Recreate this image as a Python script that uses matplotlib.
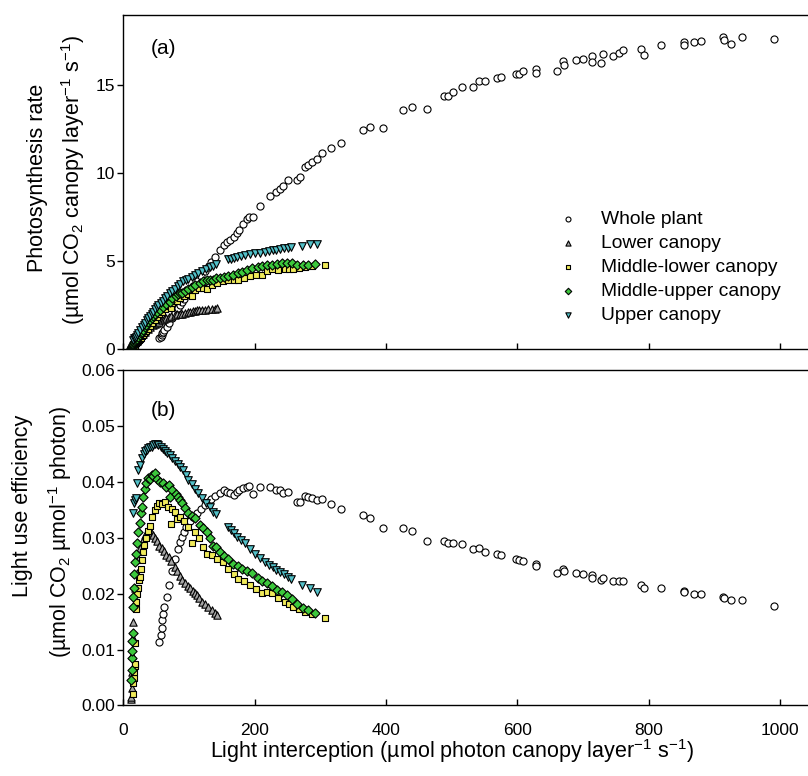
import matplotlib
matplotlib.use("Agg")
import matplotlib.pyplot as plt

plt.rcParams['font.family'] = ['Liberation Sans', 'DejaVu Sans']
plt.rcParams['mathtext.fontset'] = 'custom'
plt.rcParams['mathtext.rm'] = 'Liberation Sans'
plt.rcParams['mathtext.it'] = 'Liberation Sans:italic'
plt.rcParams['mathtext.bf'] = 'Liberation Sans:bold'
plt.rcParams['mathtext.sf'] = 'Liberation Sans'

# ---------------- data ----------------
# Whole plant: light interception, photosynthesis rate, light use efficiency
whole_x = [55, 57, 58.6, 59.6, 61, 62.6, 66, 70, 74, 79, 84, 86.5, 89, 92.5, 96, 101, 106, 112, 118, 124, 129, 134, 140,
           147, 153, 158.5, 163, 168, 172.5, 177, 182, 188, 191, 198, 208, 223, 232.6, 238.7, 243.8, 251.5, 264, 269,
           276.7, 281, 287, 295.5, 302, 316, 331.5, 364.5, 375.6, 396, 426, 439, 463, 488, 495, 502, 515, 533, 542,
           551, 569.5, 575, 598, 603, 609, 628, 628.5, 661, 670, 671, 690, 700, 713, 714, 727, 731, 745, 754, 761,
           788, 793, 818, 853, 854, 869, 880, 913, 914, 925, 942, 991]
whole_P = [0.63, 0.72, 0.81, 0.91, 0.99, 1.11, 1.29, 1.51, 1.78, 2.07, 2.35, 2.53, 2.69, 2.88, 3.07, 3.33, 3.58, 3.86,
           4.15, 4.45, 4.70, 4.95, 5.25,
           5.63, 5.90, 6.10, 6.22, 6.40, 6.62, 6.80, 7.12, 7.38, 7.50, 7.53, 8.17, 8.70, 8.92, 9.10, 9.27, 9.62, 9.62,
           9.80, 10.38, 10.50, 10.65, 10.84, 11.16, 11.42, 11.73, 12.45, 12.65, 12.58, 13.58, 13.78, 13.66, 14.38,
           14.38, 14.64, 14.88, 14.90, 15.24, 15.24, 15.43, 15.50, 15.62, 15.66, 15.80, 15.95, 15.68, 15.80, 16.36,
           16.17, 16.42, 16.50, 16.65, 16.34, 16.27, 16.80, 16.65, 16.86, 16.99, 17.08, 16.70, 17.31, 17.46, 17.31,
           17.46, 17.50, 17.74, 17.59, 17.37, 17.74, 17.65]
whole_L = [0.0114, 0.0126, 0.0138, 0.0153, 0.0163, 0.0177, 0.0195, 0.0216, 0.0240, 0.0262, 0.0280, 0.0293, 0.0302,
           0.0311, 0.0320, 0.0330, 0.0338, 0.0345, 0.0352, 0.0359, 0.0364, 0.0369, 0.0375,
           0.0381, 0.0386, 0.0383, 0.0381, 0.0377, 0.0383, 0.0385, 0.0389, 0.0391, 0.0393, 0.0379, 0.0392, 0.0391,
           0.0385, 0.0386, 0.0381, 0.0383, 0.0365, 0.0364, 0.0375, 0.0374, 0.0371, 0.0367, 0.0369, 0.0361, 0.0352,
           0.0341, 0.0335, 0.0317, 0.0318, 0.0313, 0.0294, 0.0295, 0.0290, 0.0291, 0.0289, 0.0280, 0.0282, 0.0275,
           0.0271, 0.0269, 0.0262, 0.0260, 0.0258, 0.0254, 0.0249, 0.0238, 0.0244, 0.0241, 0.0237, 0.0235, 0.0234,
           0.0229, 0.0225, 0.0229, 0.0223, 0.0223, 0.0223, 0.0216, 0.0211, 0.0211, 0.0205, 0.0203, 0.0200, 0.0199,
           0.0194, 0.0192, 0.0188, 0.0189, 0.0178]

# Lower canopy
lower_x = [12.4, 12.5, 12.8, 13.2, 13.8, 14.5, 15.5, 16.8, 18.5, 20.5, 23.0, 26.0, 29.5, 33.0, 37.0, 40.8, 44.9, 48.0,
           51.5, 55.0, 58.5, 62.0, 65.5, 69.0, 73.5, 78.8, 82.5, 86.5, 90.0, 94.0, 98.0, 101.7, 105.5, 109.0, 112.5,
           116.0, 120.0, 124.5, 129.0, 134.5, 139.0, 143.5]
lower_P = [0.014, 0.019, 0.040, 0.08, 0.12, 0.17, 0.23, 0.30, 0.39, 0.49, 0.60, 0.73, 0.87, 1.01, 1.15, 1.28, 1.37,
           1.44, 1.52, 1.57, 1.65, 1.71, 1.77, 1.83, 1.90, 1.95, 1.98, 2.00, 2.03, 2.06, 2.10, 2.14, 2.16, 2.19, 2.22,
           2.23, 2.23, 2.25, 2.28, 2.30, 2.31, 2.32]
lower_L = [0.0011, 0.0015, 0.0031, 0.0060, 0.0090, 0.0120, 0.0150, 0.0180, 0.0210, 0.0238, 0.0262, 0.0282, 0.0296,
           0.0305, 0.0311, 0.0314, 0.0305, 0.0300, 0.0295, 0.0286, 0.0282, 0.0276, 0.0270, 0.0265, 0.0258, 0.0248,
           0.0240, 0.0231, 0.0225, 0.0219, 0.0214, 0.0210, 0.0205, 0.0201, 0.0197, 0.0192, 0.0186, 0.0181, 0.0177,
           0.0171, 0.0166, 0.0162]

# Middle-lower canopy
midlow_x = [14.5, 15.5, 16.4, 16.8, 17.5, 18.0, 18.0, 19.0, 20.0, 21.5, 22.5, 23.5, 25.0, 26.5, 28.0, 30.0, 32.0, 34.5,
            37.0, 40.5, 44.0, 48.0, 52.0, 55.0, 59.0, 63.5, 68.5, 72.0, 75.0, 79.0, 82.5, 86.5, 92.0, 98.0, 104.0,
            109.0, 116.0, 122.0, 127.0, 135.0, 143.0, 152.0, 160.0, 168.0, 175.0, 184.0, 193.0, 202.0, 211.0, 219.0,
            226.0, 236.0, 246.0, 253.0, 259.0, 268.0, 277.0, 287.0, 307.0]
midlow_P = [0.03, 0.06, 0.08, 0.10, 0.12, 0.135, 0.20, 0.33, 0.37, 0.43, 0.47, 0.53, 0.58, 0.65, 0.73, 0.83, 0.92,
            1.04, 1.15, 1.30, 1.49, 1.68, 1.86, 1.99, 2.12, 2.31, 2.44, 2.34, 2.64, 2.74, 2.75, 2.92, 3.04, 3.14,
            3.02, 3.39, 3.48, 3.46, 3.45, 3.65, 3.75, 3.89, 3.92, 3.95, 3.96, 4.08, 4.17, 4.20, 4.24, 4.45, 4.57,
            4.53, 4.58, 4.58, 4.58, 4.61, 4.65, 4.71, 4.79]
midlow_L = [0.0020, 0.0040, 0.0049, 0.0060, 0.0070, 0.0075, 0.0112, 0.0172, 0.0185, 0.0200, 0.0210, 0.0225, 0.0230,
            0.0245, 0.0260, 0.0275, 0.0288, 0.0300, 0.0312, 0.0322, 0.0338, 0.0350, 0.0358, 0.0362, 0.0360, 0.0364,
            0.0356, 0.0325, 0.0352, 0.0347, 0.0333, 0.0338, 0.0330, 0.0320, 0.0290, 0.0311, 0.0300, 0.0284, 0.0272,
            0.0270, 0.0262, 0.0256, 0.0245, 0.0235, 0.0226, 0.0222, 0.0216, 0.0208, 0.0201, 0.0203, 0.0202, 0.0192,
            0.0186, 0.0181, 0.0177, 0.0172, 0.0168, 0.0164, 0.0156]

# Middle-upper canopy
midup_x = [12.5, 12.9, 13.2, 13.5, 14.0, 14.4, 14.5, 15.5, 16.4, 17.0, 18.0, 19.0, 20.5, 23.0, 25.6, 27.0, 28.5, 30.0,
           32.5, 35.0, 38.0, 41.0, 43.5, 46.0, 48.5, 52.0, 56.0, 61.0, 65.0, 69.0, 71.0, 75.0, 80.0, 84.0, 86.5, 89.0,
           94.0, 99.0, 104.0, 109.0, 117.0, 122.0, 127.0, 132.0, 137.0, 142.0, 147.0, 153.0, 160.0, 167.5, 174.0,
           181.0, 188.0, 195.5, 205.5, 212.0, 218.5, 226.0, 233.5, 241.0, 249.0, 257.0, 265.0, 274.0, 281.0, 292.0]
midup_P = [0.06, 0.08, 0.11, 0.13, 0.16, 0.19, 0.26, 0.30, 0.34, 0.40, 0.46, 0.52, 0.59, 0.71, 0.83, 0.93, 1.01, 1.12,
           1.26, 1.39, 1.55, 1.66, 1.80, 1.89, 2.02, 2.11, 2.25, 2.43, 2.55, 2.73, 2.66, 2.90, 3.02, 3.14, 3.18, 3.22,
           3.32, 3.41, 3.54, 3.65, 3.79, 3.88, 3.95, 3.96, 3.92, 4.03, 4.03, 4.10, 4.19, 4.25, 4.35, 4.42, 4.51, 4.63,
           4.69, 4.73, 4.81, 4.81, 4.83, 4.89, 4.93, 4.88, 4.80, 4.77, 4.78, 4.82]
midup_L = [0.0045, 0.0063, 0.0085, 0.0097, 0.0115, 0.0129, 0.0177, 0.0195, 0.0210, 0.0236, 0.0257, 0.0272, 0.0290,
           0.0310, 0.0326, 0.0345, 0.0356, 0.0374, 0.0388, 0.0398, 0.0407, 0.0405, 0.0413, 0.0410, 0.0416, 0.0405,
           0.0401, 0.0399, 0.0392, 0.0395, 0.0374, 0.0386, 0.0378, 0.0374, 0.0368, 0.0362, 0.0353, 0.0344, 0.0340,
           0.0335, 0.0324, 0.0318, 0.0311, 0.0300, 0.0286, 0.0284, 0.0274, 0.0268, 0.0262, 0.0254, 0.0250, 0.0244,
           0.0240, 0.0237, 0.0228, 0.0223, 0.0220, 0.0213, 0.0207, 0.0203, 0.0198, 0.0190, 0.0181, 0.0174, 0.0170,
           0.0165]

# Upper canopy
upper_x = [15.5, 17.0, 18.0, 19.5, 20.5, 22.5, 25.5, 28.0, 31.0, 33.5, 36.0, 38.5, 41.0, 43.5, 46.0, 48.5, 51.0, 53.5,
           57.0, 60.0, 63.5, 67.0, 71.0, 75.0, 79.0, 83.0, 87.0, 91.5, 95.0, 99.0, 104.0, 109.5, 114.0, 119.5, 126.0,
           132.0, 137.0, 141.0, 160.0, 164.0, 168.0, 173.0, 179.0, 185.5, 193.0, 200.5, 208.0, 216.0, 222.0, 228.0,
           233.0, 239.0, 245.0, 251.0, 256.0, 272.0, 284.0, 294.5]
upper_P = [0.53, 0.62, 0.66, 0.72, 0.82, 0.95, 1.10, 1.24, 1.40, 1.52, 1.65, 1.77, 1.90, 2.01, 2.14, 2.27, 2.39, 2.49,
           2.63, 2.75, 2.89, 3.03, 3.19, 3.32, 3.45, 3.59, 3.71, 3.86, 3.92, 4.00, 4.13, 4.25, 4.33, 4.43, 4.56, 4.70,
           4.74, 4.82, 5.12, 5.15, 5.17, 5.22, 5.32, 5.38, 5.42, 5.45, 5.49, 5.55, 5.59, 5.65, 5.66, 5.71, 5.76, 5.77,
           5.79, 5.88, 5.99, 6.01]
upper_L = [0.0344, 0.0362, 0.0368, 0.0371, 0.0398, 0.0422, 0.0431, 0.0443, 0.0450, 0.0455, 0.0458, 0.0461, 0.0463,
           0.0462, 0.0466, 0.0469, 0.0468, 0.0466, 0.0462, 0.0459, 0.0455, 0.0452, 0.0449, 0.0443, 0.0437, 0.0432,
           0.0427, 0.0422, 0.0413, 0.0404, 0.0397, 0.0388, 0.0380, 0.0371, 0.0362, 0.0356, 0.0346, 0.0342, 0.0320,
           0.0314, 0.0308, 0.0302, 0.0297, 0.0290, 0.0281, 0.0272, 0.0264, 0.0257, 0.0252, 0.0248, 0.0243, 0.0239,
           0.0235, 0.0230, 0.0226, 0.0216, 0.0211, 0.0204]

series_labels = ["Whole plant", "Lower canopy", "Middle-lower canopy", "Middle-upper canopy", "Upper canopy"]
x_ticks = [0, 200, 400, 600, 800, 1000]
p_ticks = [0, 5, 10, 15]
lue_ticks = [0.00, 0.01, 0.02, 0.03, 0.04, 0.05, 0.06]

# ---------------- styles ----------------
styles = [
    dict(marker="o", facecolor="white", s=26),
    dict(marker="^", facecolor="#a6a6a6", s=28),
    dict(marker="s", facecolor="#f0ea5a", s=24),
    dict(marker="D", facecolor="#3cc83c", s=22),
    dict(marker="v", facecolor="#52c0c8", s=30),
]
panel_a = [(whole_x, whole_P), (lower_x, lower_P), (midlow_x, midlow_P), (midup_x, midup_P), (upper_x, upper_P)]
panel_b = [(whole_x, whole_L), (lower_x, lower_L), (midlow_x, midlow_L), (midup_x, midup_L), (upper_x, upper_L)]

W, H = 808, 776
fig = plt.figure(figsize=(W / 100, H / 100), dpi=100)


def px_rect(left, top, right, bottom):
    return [left / W, 1 - bottom / H, (right - left) / W, (bottom - top) / H]


ax_a = fig.add_axes(px_rect(123.2, 15, 813, 349.3))
ax_b = fig.add_axes(px_rect(123.2, 370.4, 813, 705.4))

handles = []
for (xs, ys), st, lab in zip(panel_a, styles, series_labels):
    h = ax_a.scatter(xs, ys, marker=st["marker"], s=st["s"], facecolors=st["facecolor"],
                     edgecolors="black", linewidths=0.8, label=lab, zorder=3)
    handles.append(h)
for (xs, ys), st in zip(panel_b, styles):
    ax_b.scatter(xs, ys, marker=st["marker"], s=st["s"], facecolors=st["facecolor"],
                 edgecolors="black", linewidths=0.8, zorder=3)

for ax in (ax_a, ax_b):
    ax.set_xlim(0, 1050)
    ax.set_xticks(x_ticks)
    for sp in ax.spines.values():
        sp.set_linewidth(1.0)
    ax.tick_params(axis="x", direction="in", length=4, width=1.0, labelsize=12.5, pad=13, top=False)
    ax.tick_params(axis="y", direction="out", length=4, width=1.0, labelsize=12.5, pad=2, right=False)

ax_a.set_ylim(0, 19)
ax_a.set_yticks(p_ticks)
ax_a.tick_params(axis="x", labelbottom=False)

ax_b.set_ylim(0, 0.06)
ax_b.set_yticks(lue_ticks)
ax_b.set_yticklabels([f"{v:.2f}" for v in lue_ticks])

ax_a.text(0.04, 0.9, "(a)", transform=ax_a.transAxes, fontsize=15, va="center", ha="left")
ax_b.text(0.04, 0.88, "(b)", transform=ax_b.transAxes, fontsize=15, va="center", ha="left")

leg = ax_a.legend(handles=handles, loc="upper left", bbox_to_anchor=(0.631, 0.415), frameon=False,
                  fontsize=13.9, markerscale=0.7, scatterpoints=1, handlelength=1.0,
                  handletextpad=1.2, labelspacing=0.33, borderpad=0, borderaxespad=0)


def fx(px):
    return px / W


def fy(py):
    return 1 - py / H


# axis titles
fig.text(fx(38), fy(178), "Photosynthesis rate", rotation=90, ha="center", va="center", fontsize=15.5)
fig.text(fx(73), fy(180), "(µmol CO$_2$ canopy layer$^{-1}$ s$^{-1}$)", rotation=90,
         ha="center", va="center", fontsize=15.5)
fig.text(fx(23), fy(506), "Light use efficiency", rotation=90, ha="center", va="center", fontsize=15.5)
fig.text(fx(60), fy(532), "(µmol CO$_2$ µmol$^{-1}$ photon)", rotation=90,
         ha="center", va="center", fontsize=15.5)
fig.text(fx(452), fy(751), "Light interception (µmol photon canopy layer$^{-1}$ s$^{-1}$)",
         ha="center", va="center", fontsize=15.5)

fig.savefig("out.png", dpi=100)
